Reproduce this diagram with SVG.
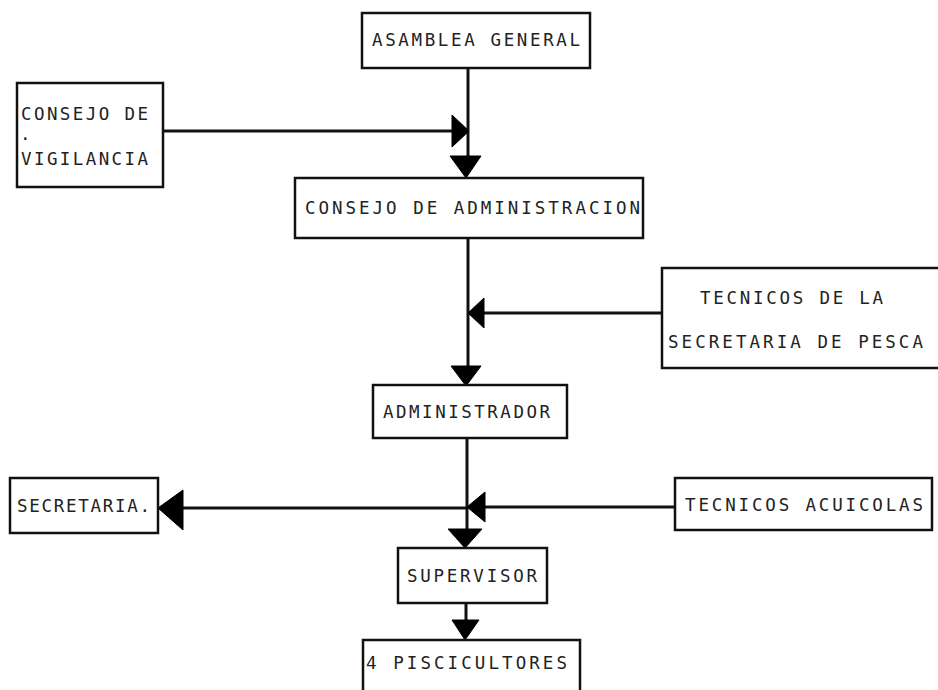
<svg xmlns="http://www.w3.org/2000/svg" width="938" height="690" viewBox="0 0 938 690">
<style>
.box{fill:#fff;stroke:#111;stroke-width:2.5}
.t{font-family:"DejaVu Sans Mono","Liberation Mono",monospace;font-size:17.5px;fill:#222}
.ln{stroke:#111;stroke-width:3;fill:none}
.ah{fill:#000;stroke:#000;stroke-width:1;stroke-linejoin:round}
</style>
<rect width="938" height="690" fill="#fff"/>
<g id="connectors">
<line class="ln" x1="468" y1="68" x2="468" y2="160"/>
<line class="ln" x1="163" y1="131" x2="454" y2="131"/>
<polygon class="ah" points="452,115 469,131 452,147"/>
<polygon class="ah" points="450,156 481,156 466,178"/>
<line class="ln" x1="468" y1="238" x2="468" y2="370"/>
<line class="ln" x1="482" y1="313" x2="662" y2="313"/>
<polygon class="ah" points="468,313 484,298 484,328"/>
<polygon class="ah" points="451,366 481,366 466,386"/>
<line class="ln" x1="467" y1="438" x2="467" y2="532"/>
<line class="ln" x1="180" y1="508" x2="467" y2="508"/>
<polygon class="ah" points="158,508 183,490 183,530"/>
<line class="ln" x1="483" y1="507" x2="675" y2="507"/>
<polygon class="ah" points="467,507 485,492 485,522"/>
<polygon class="ah" points="448,529 482,529 465,548"/>
<line class="ln" x1="466" y1="603" x2="466" y2="624"/>
<polygon class="ah" points="452,620 479,620 465,640"/>
</g>
<g id="asamblea">
<rect class="box" x="362" y="13" width="228" height="55"/>
<text class="t" x="372" y="46" textLength="208" lengthAdjust="spacing">ASAMBLEA GENERAL</text>
</g>
<g id="vigilancia">
<rect class="box" x="17" y="83" width="146" height="104"/>
<text class="t" x="21" y="120" textLength="127" lengthAdjust="spacing">CONSEJO DE</text>
<text class="t" x="20" y="140">.</text>
<text class="t" x="21" y="165" textLength="127" lengthAdjust="spacing">VIGILANCIA</text>
</g>
<g id="administracion">
<rect class="box" x="295" y="178" width="348" height="60"/>
<text class="t" x="305" y="214" textLength="335" lengthAdjust="spacing">CONSEJO DE ADMINISTRACION</text>
</g>
<g id="tecnicos-pesca">
<rect class="box" x="662" y="268" width="290" height="100"/>
<text class="t" x="700" y="304" textLength="183" lengthAdjust="spacing">TECNICOS DE LA</text>
<text class="t" x="668" y="348" textLength="255" lengthAdjust="spacing">SECRETARIA DE PESCA</text>
</g>
<g id="administrador">
<rect class="box" x="373" y="385" width="194" height="53"/>
<text class="t" x="383" y="418" textLength="167" lengthAdjust="spacing">ADMINISTRADOR</text>
</g>
<g id="secretaria">
<rect class="box" x="10" y="478" width="148" height="55"/>
<text class="t" x="17" y="512" textLength="133" lengthAdjust="spacing">SECRETARIA.</text>
</g>
<g id="tecnicos-acuicolas">
<rect class="box" x="675" y="478" width="257" height="52"/>
<text class="t" x="685" y="511" textLength="238" lengthAdjust="spacing">TECNICOS ACUICOLAS</text>
</g>
<g id="supervisor">
<rect class="box" x="398" y="548" width="149" height="55"/>
<text class="t" x="407" y="582" textLength="130" lengthAdjust="spacing">SUPERVISOR</text>
</g>
<g id="piscicultores">
<rect class="box" x="363" y="640" width="217" height="70"/>
<text class="t" x="366" y="669" textLength="201" lengthAdjust="spacing">4 PISCICULTORES</text>
</g>
</svg>
